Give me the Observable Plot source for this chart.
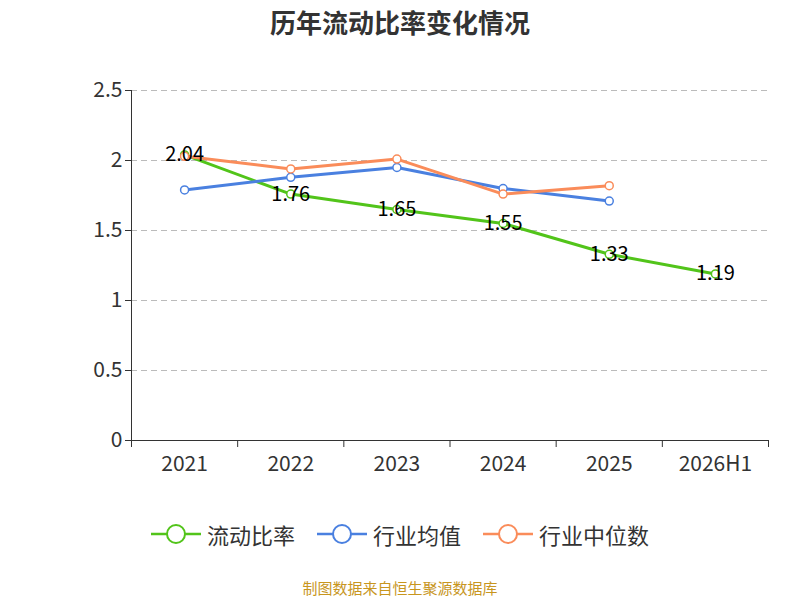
<!DOCTYPE html>
<html><head><meta charset="utf-8">
<script src="https://cdn.jsdelivr.net/npm/d3@7"></script>
<script src="https://cdn.jsdelivr.net/npm/@observablehq/plot@0.6"></script>
<style>
body{margin:0;background:#fff;font-family:"Noto Sans CJK SC","Noto Sans",sans-serif;width:800px;height:600px;position:relative;overflow:hidden}
#title{position:absolute;top:3px;width:800px;text-align:center;font-size:26px;font-weight:bold;color:#333}
#chart{position:absolute;top:45px;left:0}
#legend{position:absolute;top:518px;width:800px;display:flex;justify-content:center;gap:22px;font-size:22px;color:#333}
#legend span{display:flex;align-items:center;gap:6px}
#cap{position:absolute;top:577px;width:800px;text-align:center;font-size:15px;color:#c8961e}
</style></head><body>
<div id="title">历年流动比率变化情况</div>
<div id="chart"></div>
<div id="legend"></div>
<div id="cap">制图数据来自恒生聚源数据库</div>
<script>
const years=["2021","2022","2023","2024","2025","2026H1"];
const ratio=[2.04,1.76,1.65,1.55,1.33,1.19];
const avg=[1.79,1.88,1.95,1.80,1.71];
const median=[2.03,1.94,2.01,1.76,1.82];
const names=["流动比率","行业均值","行业中位数"];
const colors=["#52c41a","#4a80e0","#fa8c5a"];
const rows=[];
[ratio,avg,median].forEach((s,k)=>s.forEach((v,i)=>rows.push({i,v,s:names[k]})));
const bounds=d3.range(years.length+1).map(i=>i-0.5);
const green=rows.filter(d=>d.s===names[0]);
const plot=Plot.plot({
 width:800,height:430,marginTop:45,marginBottom:35,marginLeft:131,marginRight:32,
 style:{fontFamily:"Noto Sans CJK SC, Noto Sans, sans-serif",fontSize:"21px",color:"#333"},
 x:{domain:[-0.5,years.length-0.5],ticks:d3.range(years.length),tickFormat:i=>years[i],tickSize:0,tickPadding:16,label:null},
 y:{domain:[0,2.5],ticks:[0,0.5,1,1.5,2,2.5],tickFormat:d=>String(d),tickSize:6,label:null},
 color:{domain:names,range:colors},
 marks:[
  Plot.gridY([0.5,1,1.5,2,2.5],{stroke:"#bbb",strokeOpacity:1,strokeDasharray:"6,4"}),
  Plot.ruleY([0],{stroke:"#333"}),
  Plot.ruleX([-0.5],{stroke:"#333",y1:0,y2:2.5}),
  Plot.ruleX(bounds,{x:d=>d,y1:0,y2:-0.05,stroke:"#333"}),
  Plot.line(rows,{x:"i",y:"v",stroke:"s",z:"s",strokeWidth:3}),
  Plot.dot(rows,{x:"i",y:"v",stroke:"s",fill:"#fff",r:4,strokeWidth:1.5}),
  Plot.text(green,{x:"i",y:"v",text:d=>d.v.toFixed(2),fill:"#000",fontSize:20})
 ]
});
document.getElementById("chart").append(plot);
const lg=document.getElementById("legend");
names.forEach((n,k)=>{lg.insertAdjacentHTML("beforeend",`<span><svg width="50" height="24"><line x1="0" y1="12" x2="50" y2="12" stroke="${colors[k]}" stroke-width="2.5"/><circle cx="25" cy="12" r="9" fill="#fff" stroke="${colors[k]}" stroke-width="2"/></svg>${n}</span>`)});
</script></body></html>
